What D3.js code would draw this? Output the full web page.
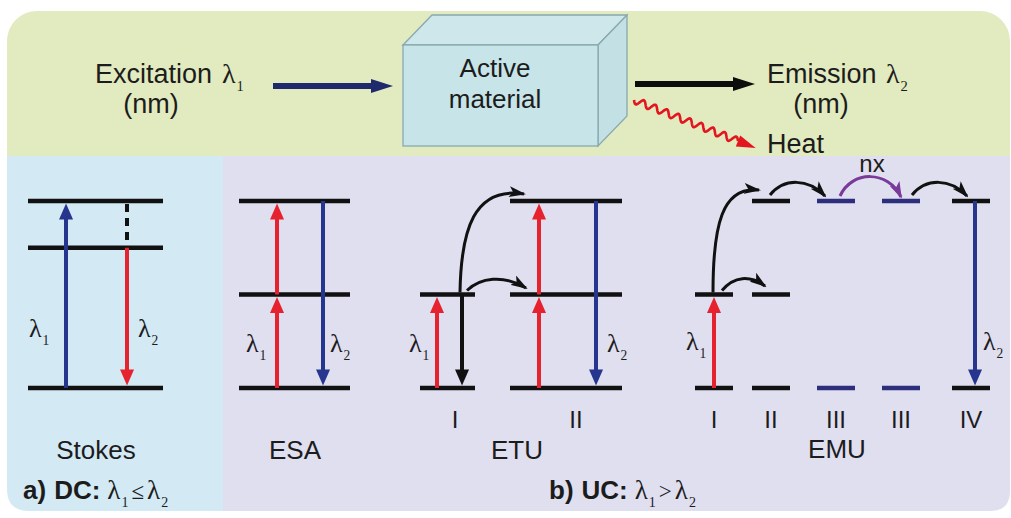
<!DOCTYPE html>
<html>
<head>
<meta charset="utf-8">
<script src="https://cdn.jsdelivr.net/npm/d3@7"></script>
<style>
  html, body { margin: 0; padding: 0; background: #ffffff; }
  svg { display: block; }
</style>
</head>
<body>
<svg id="fig" width="1011" height="518"></svg>
<script>
// ---------------- content ----------------
const flowLabels = ["Excitation", "Emission", "Heat"];
const unitLabel = "(nm)";
const materialLines = ["Active", "material"];
const schemeNames = ["Stokes", "ESA", "ETU", "EMU"];

// energy levels (arbitrary units, ground = 0)
const stokesLevels = [0, 1.5, 2];
const esaLevels = [0, 1, 2];
const etuIons = ["I", "II"];
const etuLevels = [[0, 1], [0, 1, 2]];
const emuIons = ["I", "II", "III", "III", "IV"];
const emuLevels = [[0, 1], [0, 1, 2], [0, 2], [0, 2], [0, 2]];
const emuLevelTone = ["k", "k", "n", "n", "k"];

// radiative transitions: [from, to, kind]
const stokesArrows = [[0, 2, "pump"], [1.5, 0, "emit"]];
const esaArrows = [[0, 1, "abs"], [1, 2, "abs"], [2, 0, "emit"]];
const etuArrowsI = [[0, 1, "abs"], [1, 0, "relax"]];
const etuArrowsII = [[0, 1, "abs"], [1, 2, "abs"], [2, 0, "emit"]];
const emuArrowsI = [[0, 1, "abs"]];
const emuArrowsIV = [[2, 0, "emit"]];

// ---------------- style ----------------
const ink = "#1c1c1c";
const sans = "'Liberation Sans', Arial, sans-serif";
const serif = "'Liberation Serif', 'Times New Roman', serif";
const colors = {
  pump: "#26358e", emit: "#26358e", abs: "#e5222d", relax: "#111111",
  k: "#111111", n: "#2e2f7c", purple: "#7a3a9a"
};

const svg = d3.select("#fig");

// energy axis shared by all level diagrams
const y = d3.scaleLinear().domain([0, 2]).range([388, 201]);

// ---------------- background panels ----------------
svg.append("rect").attr("x", 7).attr("y", 11).attr("width", 1003).attr("height", 200)
  .attr("rx", 30).attr("fill", "#e2eabf");
const lowerTop = 156, lowerBot = 511;
// blue panel with rounded lower-left corner
svg.append("path").attr("fill", "#d3e9f4")
  .attr("d", `M7,${lowerTop} H223 V${lowerBot} H29 Q7,${lowerBot} 7,${lowerBot - 22} Z`);
// lavender panel with rounded lower-right corner
svg.append("path").attr("fill", "#e0dff0")
  .attr("d", `M223,${lowerTop} H1010 V${lowerBot - 20} Q1010,${lowerBot} 990,${lowerBot} H223 Z`);

// ---------------- helpers ----------------
function lambda(g, x, yy, sub, size, anchor) {
  const t = g.append("text").attr("x", x).attr("y", yy)
    .attr("font-family", serif).attr("font-size", size).attr("fill", ink)
    .attr("text-anchor", anchor || "start");
  t.append("tspan").text("λ");
  t.append("tspan").attr("dx", 1).attr("dy", size * 0.3).attr("font-size", size * 0.52).text(sub);
  return t;
}

function label(g, x, yy, txt, size, anchor, weight) {
  return g.append("text").attr("x", x).attr("y", yy)
    .attr("font-family", sans).attr("font-size", size).attr("fill", ink)
    .attr("font-weight", weight || "normal")
    .attr("text-anchor", anchor || "middle").text(txt);
}

function levelLine(g, x0, x1, e, color) {
  g.append("line").attr("x1", x0).attr("x2", x1).attr("y1", y(e)).attr("y2", y(e))
    .attr("stroke", color || colors.k).attr("stroke-width", 4.5);
}

function vArrow(g, x, eFrom, eTo, color) {
  const y0 = y(eFrom), y1 = y(eTo);
  const dir = y1 < y0 ? -1 : 1;
  const tip = y1 - dir * 2.5;
  const hl = 16, hw = 7;
  g.append("line").attr("x1", x).attr("x2", x).attr("y1", y0).attr("y2", tip - dir * (hl - 2))
    .attr("stroke", color).attr("stroke-width", 4);
  g.append("path").attr("fill", color)
    .attr("d", `M${x},${tip} L${x - hw},${tip - dir * hl} L${x + hw},${tip - dir * hl} Z`);
}

// filled arrowhead for curved energy-transfer arrows
const defs = svg.append("defs");
function marker(id, color) {
  defs.append("marker").attr("id", id).attr("markerUnits", "userSpaceOnUse")
    .attr("viewBox", "0 0 17 11").attr("refX", 15).attr("refY", 5.5)
    .attr("markerWidth", 17).attr("markerHeight", 11).attr("orient", "auto")
    .append("path").attr("d", "M0,0 L17,5.5 L0,11 L4,5.5 Z").attr("fill", color);
}
marker("headK", "#111111");
marker("headP", colors.purple);

function curve(g, d, color, head) {
  g.append("path").attr("d", d).attr("fill", "none").attr("stroke", color)
    .attr("stroke-width", 3).attr("marker-end", `url(#${head})`);
}

// ---------------- top: excitation -> material -> emission ----------------
const flowG = svg.append("g");
label(flowG, 95, 83, flowLabels[0], 27, "start");
lambda(flowG, 222, 83, "1", 28);
label(flowG, 151, 113, unitLabel, 27);

// excitation arrow
flowG.append("line").attr("x1", 273).attr("x2", 374).attr("y1", 86).attr("y2", 86)
  .attr("stroke", "#1f2a6c").attr("stroke-width", 6);
flowG.append("path").attr("fill", "#1f2a6c").attr("d", "M371,79 L393,86 L371,93 Z");

// active material block
const box = { x0: 403, x1: 598, y0: 45, y1: 146, dx: 29, dy: 30 };
const edge = "#88a9ae";
flowG.append("path").attr("fill", "#cde7eb").attr("stroke", edge).attr("stroke-width", 1.3)
  .attr("d", `M${box.x0},${box.y0} L${box.x0 + box.dx},${box.y0 - box.dy} L${box.x1 + box.dx},${box.y0 - box.dy} L${box.x1},${box.y0} Z`);
flowG.append("path").attr("fill", "#c3e0e5").attr("stroke", edge).attr("stroke-width", 1.3)
  .attr("d", `M${box.x1},${box.y0} L${box.x1 + box.dx},${box.y0 - box.dy} L${box.x1 + box.dx},${box.y1 - box.dy} L${box.x1},${box.y1} Z`);
flowG.append("rect").attr("x", box.x0).attr("y", box.y0).attr("width", box.x1 - box.x0)
  .attr("height", box.y1 - box.y0).attr("fill", "#c7e4e8").attr("stroke", edge).attr("stroke-width", 1.3);
label(flowG, 495, 77, materialLines[0], 26);
label(flowG, 495, 108, materialLines[1], 26);

// emission arrow
flowG.append("line").attr("x1", 635).attr("x2", 736).attr("y1", 84).attr("y2", 84)
  .attr("stroke", "#0d0d0d").attr("stroke-width", 6);
flowG.append("path").attr("fill", "#0d0d0d").attr("d", "M733,77 L755,84 L733,91 Z");
label(flowG, 767, 83, flowLabels[1], 27, "start");
lambda(flowG, 886, 83, "2", 28);
label(flowG, 821, 113, unitLabel, 27);

// heat: wavy red arrow
(function () {
  const p0 = [634, 100], p1 = [738, 141];
  const len = Math.hypot(p1[0] - p0[0], p1[1] - p0[1]);
  const ux = (p1[0] - p0[0]) / len, uy = (p1[1] - p0[1]) / len;
  const nx = -uy, ny = ux;
  const pts = d3.range(0, 1.0001, 0.005).map(t => {
    const a = 3.4 * Math.sin(t * 2 * Math.PI * 9);
    return [p0[0] + ux * len * t + nx * a, p0[1] + uy * len * t + ny * a];
  });
  flowG.append("path").attr("d", d3.line()(pts)).attr("fill", "none")
    .attr("stroke", "#e3161f").attr("stroke-width", 2.6);
  const tip = [p1[0] + ux * 19, p1[1] + uy * 19];
  flowG.append("path").attr("fill", "#e3161f")
    .attr("d", `M${tip[0]},${tip[1]} L${p1[0] + nx * 6},${p1[1] + ny * 6} L${p1[0] - nx * 6},${p1[1] - ny * 6} Z`);
})();
label(flowG, 767, 153, flowLabels[2], 27, "start");

// ---------------- bottom: level diagrams ----------------
const bot = svg.append("g");

// Stokes (down-conversion)
const sk = { x0: 28, x1: 163, up: 66, down: 127 };
stokesLevels.forEach(e => levelLine(bot, sk.x0, sk.x1, e));
vArrow(bot, sk.up, stokesArrows[0][0], stokesArrows[0][1], colors[stokesArrows[0][2]]);
bot.append("line").attr("x1", sk.down).attr("x2", sk.down)
  .attr("y1", y(2) + 3).attr("y2", y(1.5) - 2)
  .attr("stroke", "#111").attr("stroke-width", 4).attr("stroke-dasharray", "8,6");
vArrow(bot, sk.down, stokesArrows[1][0], stokesArrows[1][1], "#e5222d");
lambda(bot, 29, 337, "1", 26);
lambda(bot, 138, 337, "2", 26);
label(bot, 96, 459, schemeNames[0], 26);

// ESA
const es = { x0: 239, x1: 350, up: 277, down: 323 };
esaLevels.forEach(e => levelLine(bot, es.x0, es.x1, e));
esaArrows.forEach(([a, b, k]) => vArrow(bot, k === "abs" ? es.up : es.down, a, b, colors[k]));
lambda(bot, 246, 352, "1", 26);
lambda(bot, 330, 352, "2", 26);
label(bot, 295, 459, schemeNames[1], 26);

// ETU
const etu = [
  { x0: 420, x1: 475, up: 437, down: 462, c: 455 },
  { x0: 510, x1: 622, up: 539, down: 596, c: 576 }
];
etuLevels.forEach((lv, i) => lv.forEach(e => levelLine(bot, etu[i].x0, etu[i].x1, e)));
etuArrowsI.forEach(([a, b, k]) => vArrow(bot, k === "abs" ? etu[0].up : etu[0].down, a, b, colors[k]));
etuArrowsII.forEach(([a, b, k]) => vArrow(bot, k === "abs" ? etu[1].up : etu[1].down, a, b, colors[k]));
curve(bot, `M460,${y(1) - 2} C461,230 474,186 524,194`, "#111", "headK");
curve(bot, `M467,${y(1) - 4} C480,278 503,274 526,288`, "#111", "headK");
lambda(bot, 409, 352, "1", 26);
lambda(bot, 607, 352, "2", 26);
etuIons.forEach((t, i) => label(bot, etu[i].c, 428, t, 24));
label(bot, 517, 459, schemeNames[2], 26);

// EMU
const emuX = [714, 771, 836, 901, 971];
const hw = 19;
emuLevels.forEach((lv, i) => lv.forEach(e =>
  levelLine(bot, emuX[i] - hw, emuX[i] + hw, e, colors[emuLevelTone[i]])));
emuArrowsI.forEach(([a, b, k]) => vArrow(bot, emuX[0], a, b, colors[k]));
emuArrowsIV.forEach(([a, b, k]) => vArrow(bot, emuX[4] + 4, a, b, colors[k]));
curve(bot, `M713,${y(1) - 2} C713,225 722,186 759,190`, "#111", "headK");
curve(bot, `M722,${y(1) - 4} C734,276 750,275 765,286`, "#111", "headK");
curve(bot, `M770,195 C784,178 808,178 825,196`, "#111", "headK");
curve(bot, `M840,196 C852,170 888,170 901,197`, colors.purple, "headP");
curve(bot, `M912,195 C926,178 950,178 967,196`, "#111", "headK");
label(bot, 872, 172, "nx", 24);
lambda(bot, 686, 350, "1", 26);
lambda(bot, 983, 350, "2", 26);
emuIons.forEach((t, i) => label(bot, emuX[i], 428, t, 24));
label(bot, 837, 458, schemeNames[3], 26);

// ---------------- panel captions ----------------
function caption(g, x, yy, tag, kind, rel) {
  const t = g.append("text").attr("x", x).attr("y", yy).attr("fill", ink)
    .attr("font-family", sans).attr("font-size", 26);
  t.append("tspan").attr("font-weight", "bold").text(tag);
  t.append("tspan").attr("font-weight", "bold").attr("dx", 8).text(kind + ":");
  t.append("tspan").attr("font-family", serif).attr("font-size", 27).attr("dx", 7).text("λ");
  t.append("tspan").attr("font-family", serif).attr("font-size", 14).attr("dx", 1).attr("dy", 8).text("1");
  t.append("tspan").attr("font-family", serif).attr("font-size", 23).attr("dx", 3).attr("dy", -8).text(rel);
  t.append("tspan").attr("font-family", serif).attr("font-size", 27).attr("dx", 3).text("λ");
  t.append("tspan").attr("font-family", serif).attr("font-size", 14).attr("dx", 1).attr("dy", 8).text("2");
}
caption(bot, 23, 499, "a)", "DC", "≤");
caption(bot, 549, 499, "b)", "UC", ">");
</script>
</body>
</html>
